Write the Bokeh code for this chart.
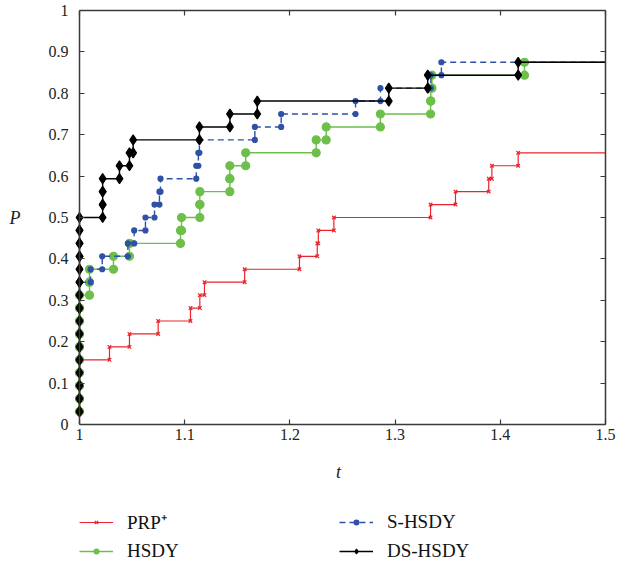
from bokeh.plotting import figure
from bokeh.layouts import column
from bokeh.models import Range1d, LinearAxis, FixedTicker, Legend, LegendItem
from bokeh.embed import file_html
from bokeh.resources import INLINE

# ---------------- data ----------------
N_PROBLEMS = 32
# sorted performance ratios (only those inside the plotted range)
prp_ratios = [1, 1, 1, 1, 1, 1.0285, 1.0475, 1.0748, 1.1055, 1.1144, 1.1188,
              1.157, 1.2091, 1.226, 1.227, 1.2418, 1.3337, 1.3574, 1.389,
              1.392, 1.417]
hsdy_ratios = [1] * 10 + [1.0095, 1.0095, 1.0323, 1.0475, 1.096, 1.097,
                          1.1144, 1.1144, 1.1429, 1.1429, 1.158, 1.225,
                          1.2345, 1.286, 1.3337, 1.334, 1.335, 1.423]
shsdy_ratios = [1] * 11 + [1.0105, 1.0216, 1.046, 1.052, 1.0627, 1.0713,
                           1.076, 1.077, 1.111, 1.113, 1.114, 1.1667,
                           1.1917, 1.2624, 1.2861, 1.334, 1.344]
dshsdy_ratios = [1] * 16 + [1.022, 1.022, 1.022, 1.038, 1.0475, 1.051,
                            1.114, 1.143, 1.169, 1.294, 1.331, 1.417]
series_names = ["PRP\u207a", "HSDY", "S-HSDY", "DS-HSDY"]

x_ticks = [1, 1.1, 1.2, 1.3, 1.4, 1.5]
x_tick_labels = ["1", "1.1", "1.2", "1.3", "1.4", "1.5"]
y_ticks = [0, 0.1, 0.2, 0.3, 0.4, 0.5, 0.6, 0.7, 0.8, 0.9, 1]
y_tick_labels = ["0", "0.1", "0.2", "0.3", "0.4", "0.5", "0.6", "0.7", "0.8", "0.9", "1"]

X_MIN, X_MAX = 1.0, 1.5


def stairs(ratios, n):
    xs, ys = [], []
    for i, v in enumerate(ratios):
        if i > 0:
            xs.append(v)
            ys.append(i / n)
        xs.append(v)
        ys.append((i + 1) / n)
    return xs, ys


FONT = "Liberation Serif"
AX_COL = "#3a3a3a"

# layout (pixels)
FRAME_W, FRAME_H = 526, 414
PAD_PX = 8                      # room left of x=1 so markers there are not cut
LEFT, TOP, RIGHT, BOTTOM = 79, 10, 28, 80
x_pad = (X_MAX - X_MIN) * PAD_PX / FRAME_W

p = figure(frame_width=FRAME_W + PAD_PX, frame_height=FRAME_H,
           x_range=Range1d(X_MIN - x_pad, X_MAX), y_range=Range1d(0, 1),
           output_backend="svg", toolbar_location=None,
           min_border_left=LEFT - PAD_PX, min_border_right=RIGHT,
           min_border_top=TOP, min_border_bottom=BOTTOM,
           x_axis_label="t", y_axis_label="P")
p.grid.visible = False
p.outline_line_color = None
p.background_fill_color = "white"
p.border_fill_color = "white"


def style_axis(ax, ticks):
    ax.ticker = FixedTicker(ticks=ticks)
    ax.major_tick_in = 5
    ax.major_tick_out = 0
    ax.minor_tick_line_color = None
    ax.axis_line_color = AX_COL
    ax.axis_line_width = 1.5
    ax.major_tick_line_color = AX_COL
    ax.major_tick_line_width = 1.2


for ax, ticks, labels in ((p.xaxis[0], x_ticks, x_tick_labels),
                          (p.yaxis[0], y_ticks, y_tick_labels)):
    style_axis(ax, ticks)
    ax.major_label_overrides = {t: l for t, l in zip(ticks, labels)}
    ax.major_label_text_font = FONT
    ax.major_label_text_font_size = "16px"
    ax.major_label_text_color = "#222222"
    ax.axis_label_text_font = FONT
    ax.axis_label_text_font_style = "italic"
    ax.axis_label_text_font_size = "18px"
    ax.axis_label_text_color = "#222222"

p.xaxis[0].bounds = (X_MIN, X_MAX)
p.xaxis[0].major_label_standoff = 4
p.xaxis[0].axis_label_standoff = 19

# left axis: labels only (its line sits at the padded frame edge, so hide it)
ya = p.yaxis[0]
ya.axis_line_color = None
ya.major_tick_line_color = None
ya.major_label_standoff = 3
ya.axis_label_standoff = 25
ya.axis_label_orientation = "horizontal"

# the visible left spine with ticks, at t = 1
spine = LinearAxis(fixed_location=X_MIN)
style_axis(spine, y_ticks)
spine.major_label_overrides = {t: "" for t in y_ticks}
spine.major_label_text_font_size = "1px"
spine.major_label_standoff = 0
p.add_layout(spine, "left")

for loc, ticks in (("above", x_ticks), ("right", y_ticks)):
    ax = LinearAxis()
    style_axis(ax, ticks)
    ax.major_label_overrides = {t: "" for t in ticks}
    ax.major_label_text_font_size = "1px"
    ax.major_label_standoff = 0
    if loc == "above":
        ax.bounds = (X_MIN, X_MAX)
    p.add_layout(ax, loc)

styles = [
    dict(color="#e8242c", dash="solid", marker="x", size=5, lw=1.2, fill="#e8242c"),
    dict(color="#6cc04a", dash="solid", marker="circle", size=8, lw=1.4, fill="#6cc04a"),
    dict(color="#2f50a6", dash="6 4", marker="circle", size=5, lw=1.4, fill="#2f50a6"),
    dict(color="#000000", dash="solid", marker="diamond", size=10, lw=1.4, fill="#000000"),
]
all_ratios = [prp_ratios, hsdy_ratios, shsdy_ratios, dshsdy_ratios]

# legend strip below the chart (its ranges keep the sample data out of view)
leg_fig = figure(width=LEFT + FRAME_W + RIGHT, height=61, output_backend="svg",
                 toolbar_location=None, min_border=0,
                 x_axis_location=None, y_axis_location=None,
                 x_range=Range1d(-2, -1), y_range=Range1d(-2, -1))
leg_fig.grid.visible = False
leg_fig.outline_line_color = None

items = []
for name, ratios, st in zip(series_names, all_ratios, styles):
    xs, ys = stairs(ratios, N_PROBLEMS)
    lx = xs + [X_MAX]
    ly = ys + [ys[-1]]
    p.line(lx, ly, line_color=st["color"], line_width=st["lw"],
           line_dash=st["dash"])
    p.scatter(xs, ys, marker=st["marker"], size=st["size"],
              line_color=st["color"], fill_color=st["fill"], line_width=1.2)
    lr = leg_fig.line(lx, ly, line_color=st["color"], line_width=st["lw"],
                      line_dash=st["dash"])
    lm = leg_fig.scatter(xs, ys, marker=st["marker"], size=st["size"],
                         line_color=st["color"], fill_color=st["fill"],
                         line_width=1.2)
    items.append(LegendItem(label=name, renderers=[lr, lm]))

legend = Legend(items=items, orientation="vertical", nrows=2,
                location=(8, 3))
legend.label_text_font = FONT
legend.label_text_font_size = "19px"
legend.label_text_color = "#111111"
legend.glyph_width = 34
legend.glyph_height = 12
legend.label_height = 19
legend.label_standoff = 14
legend.label_width = 207
legend.spacing = 5
legend.padding = 0
legend.margin = 0
legend.border_line_alpha = 0
legend.background_fill_alpha = 0
leg_fig.add_layout(legend)

layout = column(p, leg_fig, spacing=0)
open("out.html", "w").write(file_html(layout, INLINE))
